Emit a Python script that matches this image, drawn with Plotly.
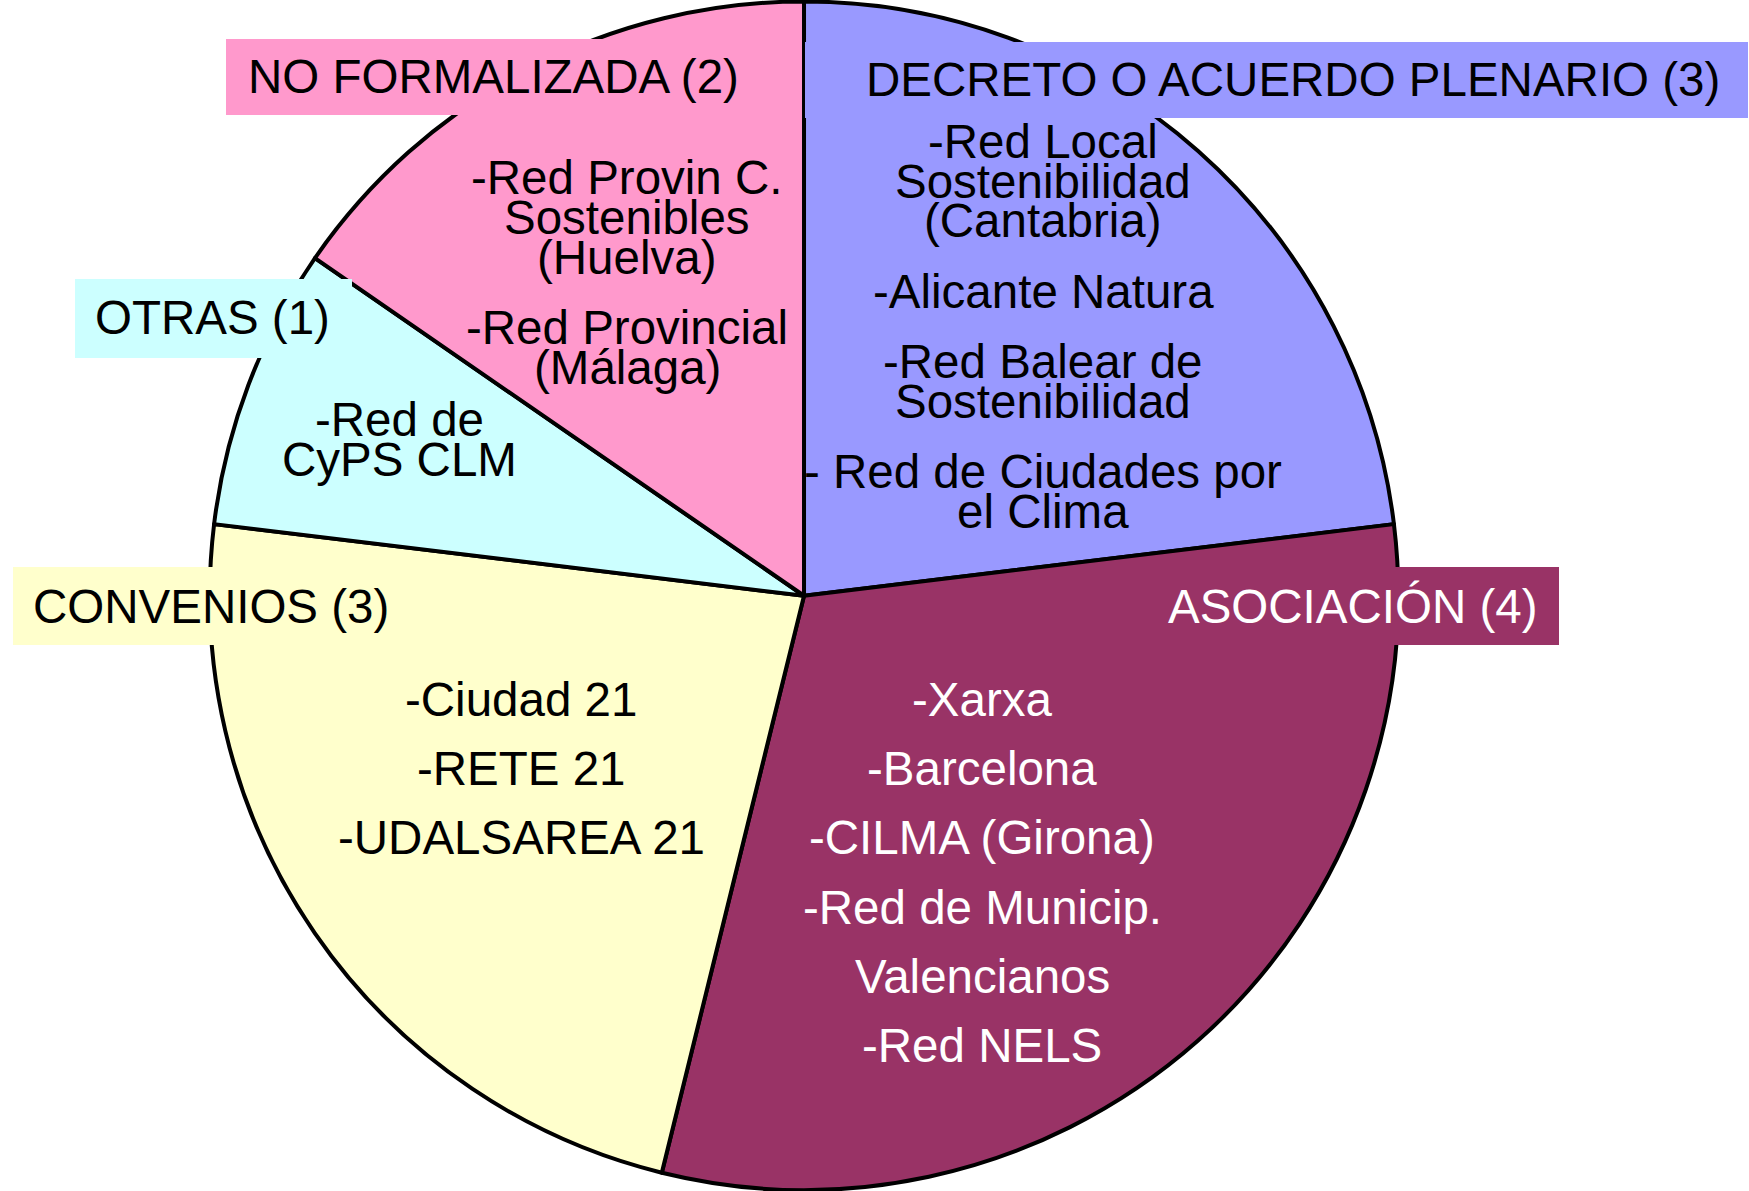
import plotly.graph_objects as go

# ---------------- data ----------------
categories = ["DECRETO O ACUERDO PLENARIO", "ASOCIACIÓN", "CONVENIOS", "OTRAS", "NO FORMALIZADA"]
values = [3, 4, 3, 1, 2]
colors = ["#9999FF", "#993366", "#FFFFCC", "#CCFFFF", "#FF99CC"]

decreto_items = [["-Red Local", "Sostenibilidad", "(Cantabria)"],
                 ["-Alicante Natura"],
                 ["-Red Balear de", "Sostenibilidad"],
                 ["- Red de Ciudades por", "el Clima"]]
asociacion_items = [["-Xarxa"], ["-Barcelona"], ["-CILMA (Girona)"],
                    ["-Red de Municip."], ["Valencianos"], ["-Red NELS"]]
convenios_items = [["-Ciudad 21"], ["-RETE 21"], ["-UDALSAREA 21"]]
otras_items = [["-Red de", "CyPS CLM"]]
noform_items = [["-Red Provin C.", "Sostenibles", "(Huelva)"],
                ["-Red Provincial", "(Málaga)"]]
items = [decreto_items, asociacion_items, convenios_items, otras_items, noform_items]

# ---------------- layout helpers ----------------
W, H = 1749, 1191
FONT = "Liberation Sans, Arial, sans-serif"
FS = 47.5

def px(x):
    return x / W

def py(y):
    return 1 - y / H

fig = go.Figure(go.Pie(
    labels=categories, values=values, sort=False, direction="clockwise", rotation=0,
    marker=dict(colors=colors, line=dict(color="black", width=4)),
    textinfo="none", hoverinfo="skip",
    domain=dict(x=[0.10, 0.8194], y=[1 - 1190 / H, 1 - 1.5 / H]),
))

# label boxes (x0, y0, x1, y1 in px), text centre (x, y), text colour
label_boxes = [
    (805, 42, 1748, 118, 1293, 80, "black"),
    (1145, 567, 1559, 645, 1353, 606, "white"),
    (13, 567, 413, 645, 211, 606, "black"),
    (75, 279, 352, 358, 212, 318, "black"),
    (226, 39, 801, 115, 494, 77, "black"),
]
# inner text groups: x centre, first line y, line gap, paragraph gap, colour
text_pos = [
    (1043, 141.7, 39.6, 70.3, "black"),
    (982, 699.4, 39.6, 69.2, "white"),
    (521, 699.4, 39.6, 69.2, "black"),
    (399, 419.4, 39.6, 69.2, "black"),
    (627, 177.3, 39.9, 70.3, "black"),
]

shapes = []
annotations = []
for cat, val, col, box, grp, pos in zip(categories, values, colors, label_boxes, items, text_pos):
    x0, y0, x1, y1, tx, ty, tcol = box
    shapes.append(dict(type="rect", xref="paper", yref="paper",
                       x0=px(x0), x1=px(x1), y0=py(y1), y1=py(y0),
                       fillcolor=col, line=dict(width=0), layer="above"))
    annotations.append(dict(text=f"{cat} ({val})", x=px(tx), y=py(ty),
                            xref="paper", yref="paper", xanchor="center", yanchor="middle",
                            showarrow=False, font=dict(family=FONT, size=FS, color=tcol)))
    cx, y, lg, pg, ccol = pos
    for i, entry in enumerate(grp):
        if i > 0:
            y += pg - lg
        for j, line in enumerate(entry):
            if j > 0 or i > 0:
                y += lg
            annotations.append(dict(text=line, x=px(cx), y=py(y), xref="paper", yref="paper",
                                    xanchor="center", yanchor="middle", showarrow=False,
                                    font=dict(family=FONT, size=FS, color=ccol)))

fig.update_layout(width=W, height=H, margin=dict(l=0, r=0, t=0, b=0),
                  showlegend=False, paper_bgcolor="white", plot_bgcolor="white",
                  shapes=shapes, annotations=annotations)
fig.write_html("out.html", config={"displayModeBar": False},
               post_script="document.body.style.margin='0';document.body.style.overflow='hidden';")
